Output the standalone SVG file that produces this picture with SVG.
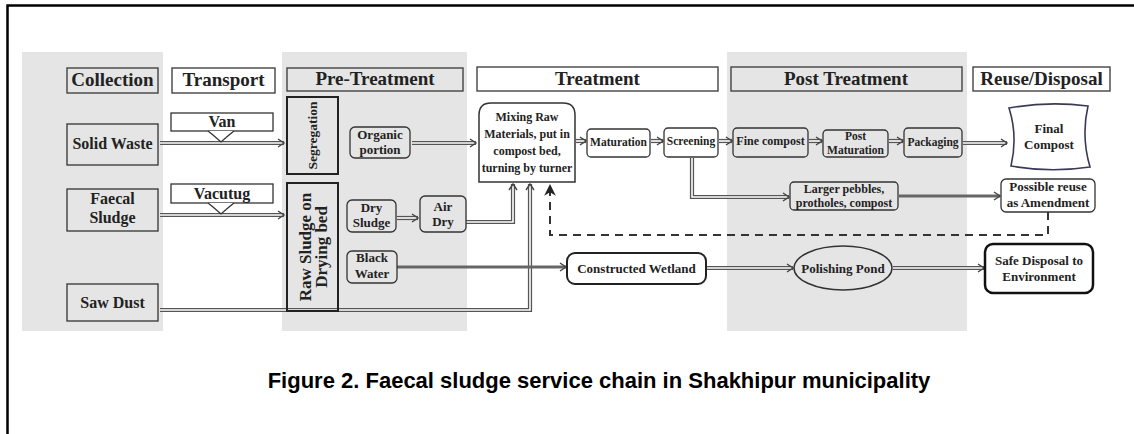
<svg xmlns="http://www.w3.org/2000/svg" width="1134" height="434" viewBox="0 0 1134 434">
<style>
.band{fill:#e5e5e5}
.hdr{stroke:#444;stroke-width:1.4;fill:none}
.hdrw{stroke:#444;stroke-width:1.4;fill:#fff}
.box{stroke:#333;stroke-width:1.3;fill:none}
.boxw{stroke:#333;stroke-width:1.3;fill:#fff}
.rbox{stroke:#333;stroke-width:1.3;fill:none}
.t{font-family:"Liberation Serif",serif;font-weight:bold;fill:#222;text-anchor:middle}
.h{font-size:19px}
.m{font-size:16px}
.s{font-size:13px}
.xs{font-size:12px}
.outer{fill:none;stroke:#555;stroke-width:4.2;stroke-linejoin:miter}
.inner{fill:none;stroke:#fff;stroke-width:1.6;stroke-linejoin:miter;marker-end:url(#chev)}
.single{fill:none;stroke:#666;stroke-width:3;marker-end:url(#chev)}
.dash{fill:none;stroke:#333;stroke-width:2;stroke-dasharray:8 6;marker-end:url(#solid)}
</style>
<defs>
<marker id="chev" markerUnits="userSpaceOnUse" markerWidth="12" markerHeight="12" refX="8" refY="5" orient="auto" viewBox="0 0 12 10">
<path d="M2,1 L8,5 L2,9" fill="none" stroke="#444" stroke-width="1.4"/>
</marker>
<marker id="solid" markerUnits="userSpaceOnUse" markerWidth="14" markerHeight="14" refX="10" refY="6" orient="auto" viewBox="0 0 12 12">
<path d="M0,1 L10,6 L0,11 L3,6 Z" fill="#222"/>
</marker>
</defs>
<rect width="1134" height="434" fill="#fff"/>
<path d="M7.5,434 V5.5 H1134" fill="none" stroke="#000" stroke-width="2.5"/>
<g id="bands">
<rect class="band" x="22" y="52" width="141" height="279"/>
<rect class="band" x="282" y="52" width="185" height="279"/>
<rect class="band" x="727" y="52" width="240" height="279"/>
</g>
<g id="headers">
<g id="h-collection"><rect class="hdr" x="67" y="68" width="91" height="25"/><text class="t h" x="112.5" y="86">Collection</text></g>
<g id="h-transport"><rect class="hdrw" x="172" y="68" width="103" height="25"/><text class="t h" x="223.5" y="86">Transport</text></g>
<g id="h-pretreatment"><rect class="hdr" x="287" y="68" width="176" height="23"/><text class="t h" x="375" y="85">Pre-Treatment</text></g>
<g id="h-treatment"><rect class="hdrw" x="477" y="67" width="241" height="24"/><text class="t h" x="597.5" y="85">Treatment</text></g>
<g id="h-posttreatment"><rect class="hdr" x="731" y="67" width="231" height="24"/><text class="t h" x="846" y="85">Post Treatment</text></g>
<g id="h-reuse"><rect class="hdrw" x="973" y="67" width="137" height="24"/><text class="t h" x="1041.5" y="85">Reuse/Disposal</text></g>
</g>
<g id="connectors">
<path class="outer" d="M160,143 H284"/><path class="inner" d="M160,143 H284"/>
<path class="outer" d="M160,215 H284"/><path class="inner" d="M160,215 H284"/>
<path class="outer" d="M412,143 H476"/><path class="inner" d="M412,143 H476"/>
<path class="outer" d="M397,218 H418"/><path class="inner" d="M397,218 H418"/>
<path class="outer" d="M466,222 H513 V184"/><path class="inner" d="M466,222 H513 V184"/>
<path class="outer" d="M160,310 H530 V184"/><path class="inner" d="M160,310 H530 V184"/>
<path class="outer" d="M576,141 H586"/><path class="inner" d="M576,141 H586"/>
<path class="outer" d="M651,141 H663"/><path class="inner" d="M651,141 H663"/>
<path class="outer" d="M719,141 H732"/><path class="inner" d="M719,141 H732"/>
<path class="outer" d="M809,141 H822"/><path class="inner" d="M809,141 H822"/>
<path class="outer" d="M889,141 H903"/><path class="inner" d="M889,141 H903"/>
<path class="outer" d="M963,143 H1007"/><path class="inner" d="M963,143 H1007"/>
<path class="outer" d="M692,158 V197 H789"/><path class="inner" d="M692,158 V197 H789"/>
<path class="outer" d="M707,268 H793"/><path class="inner" d="M707,268 H793"/>
<path class="outer" d="M893,268 H984"/><path class="inner" d="M893,268 H984"/>
<path class="single" d="M397,267 H566"/>
<path class="single" d="M899,196 H1000"/>
<path class="dash" d="M1048,212 V235 H550 V184"/>
</g>
<g id="collection">
<g id="solid-waste"><rect class="box" x="67" y="124" width="91" height="41"/><text class="t m" x="112.5" y="149">Solid Waste</text></g>
<g id="faecal-sludge"><rect class="box" x="67" y="189" width="91" height="42"/><text class="t m" x="112.5" y="204">Faecal</text><text class="t m" x="112.5" y="223">Sludge</text></g>
<g id="saw-dust"><rect class="box" x="67" y="284" width="91" height="37"/><text class="t m" x="112.5" y="308">Saw Dust</text></g>
</g>
<g id="transport">
<g id="van"><rect class="boxw" x="171" y="113" width="102" height="18"/><text class="t m" x="222" y="127">Van</text><path d="M208,131 L213,135 L221,142 L229,135 L234,131" fill="#fff" stroke="#333" stroke-width="1.3"/></g>
<g id="vacutug"><rect class="boxw" x="171" y="184" width="102" height="19"/><text class="t m" x="222" y="199">Vacutug</text><path d="M208,203 L213,207 L221,214 L229,207 L234,203" fill="#fff" stroke="#333" stroke-width="1.3"/></g>
</g>
<g id="pretreatment">
<g id="segregation"><rect x="287" y="97" width="51" height="77" fill="none" stroke="#222" stroke-width="2"/><text class="t" style="font-size:13.5px" transform="translate(312.5,135.5) rotate(-90)" x="0" y="4.5">Segregation</text></g>
<g id="raw-sludge"><rect x="287" y="183" width="51" height="128" fill="none" stroke="#222" stroke-width="2"/><text class="t" style="font-size:17px" transform="translate(312.5,247) rotate(-90)" x="0" y="-2">Raw Sludge on</text><text class="t" style="font-size:17px" transform="translate(312.5,247) rotate(-90)" x="0" y="14">Drying bed</text></g>
<g id="organic"><rect class="rbox" x="350" y="127" width="60" height="31" rx="5"/><text class="t s" x="380" y="139">Organic</text><text class="t s" x="380" y="154">portion</text></g>
<g id="dry-sludge"><rect class="rbox" x="347" y="200" width="49" height="32" rx="5"/><text class="t s" x="371.5" y="212">Dry</text><text class="t s" x="371.5" y="227">Sludge</text></g>
<g id="air-dry"><rect class="rbox" x="420" y="196" width="46" height="36" rx="5"/><text class="t s" x="443" y="211">Air</text><text class="t s" x="443" y="226">Dry</text></g>
<g id="black-water"><rect class="rbox" x="347" y="251" width="50" height="32" rx="5"/><text class="t s" x="372" y="262">Black</text><text class="t s" x="372" y="278">Water</text></g>
</g>
<g id="treatment">
<g id="mixing"><path d="M479,182 V115 Q479,103 491,103 H563 Q575,103 575,115 V182 Z" fill="#fff" stroke="#333" stroke-width="1.5"/>
<text class="t" style="font-size:12px" x="527" y="121">Mixing Raw</text><text class="t" style="font-size:12px" x="527" y="138">Materials, put in</text><text class="t" style="font-size:12px" x="527" y="155">compost bed,</text><text class="t" style="font-size:12px" x="527" y="172">turning by turner</text></g>
<g id="maturation"><rect class="boxw" x="587" y="129" width="63" height="28" rx="4"/><text class="t" style="font-size:11.5px" x="618.5" y="146">Maturation</text></g>
<g id="screening"><rect class="boxw" x="664" y="128" width="54" height="29" rx="4"/><text class="t" style="font-size:11.5px" x="691" y="145">Screening</text></g>
<g id="wetland"><rect x="567" y="253" width="139" height="31" rx="8" fill="#fff" stroke="#222" stroke-width="2"/><text class="t s" x="636.5" y="273">Constructed Wetland</text></g>
</g>
<g id="posttreatment">
<g id="fine-compost"><rect class="rbox" x="733" y="128" width="75" height="29" rx="4"/><text class="t xs" x="770.5" y="145">Fine compost</text></g>
<g id="post-maturation"><rect class="rbox" x="823" y="130" width="65" height="27" rx="4"/><text class="t" style="font-size:11.5px" x="855.5" y="140">Post</text><text class="t" style="font-size:11.5px" x="855.5" y="154">Maturation</text></g>
<g id="packaging"><rect class="rbox" x="904" y="128" width="58" height="29" rx="4"/><text class="t" style="font-size:11.5px" x="933" y="146">Packaging</text></g>
<g id="larger-pebbles"><rect class="rbox" x="790" y="182" width="108" height="28" rx="4"/><text class="t xs" x="844" y="193">Larger pebbles,</text><text class="t xs" x="844" y="207">protholes, compost</text></g>
<g id="polishing-pond"><ellipse cx="843" cy="268" rx="49" ry="22" fill="none" stroke="#333" stroke-width="1.5"/><text class="t s" x="843" y="273">Polishing Pond</text></g>
</g>
<g id="reuse">
<g id="final-compost"><path d="M1009,108 Q1048,101 1088,106 Q1081,136 1090,167 Q1050,173 1011,166 Q1018,136 1009,108 Z" fill="#fff" stroke="#3a3a58" stroke-width="1.6"/><text class="t s" x="1049" y="133">Final</text><text class="t s" x="1049" y="149">Compost</text></g>
<g id="possible-reuse"><rect class="boxw" x="1001" y="179" width="94" height="33" rx="5"/><text class="t s" x="1048" y="191">Possible reuse</text><text class="t s" x="1048" y="207">as Amendment</text></g>
<g id="safe-disposal"><rect x="985" y="244" width="108" height="49" rx="8" fill="#fff" stroke="#111" stroke-width="2.5"/><text class="t s" x="1039" y="265">Safe Disposal to</text><text class="t s" x="1039" y="281">Environment</text></g>
</g>
<text x="599" y="388" font-family="'Liberation Sans',Arial,sans-serif" font-weight="bold" font-size="22" fill="#000" text-anchor="middle">Figure 2. Faecal sludge service chain in Shakhipur municipality</text>
</svg>
